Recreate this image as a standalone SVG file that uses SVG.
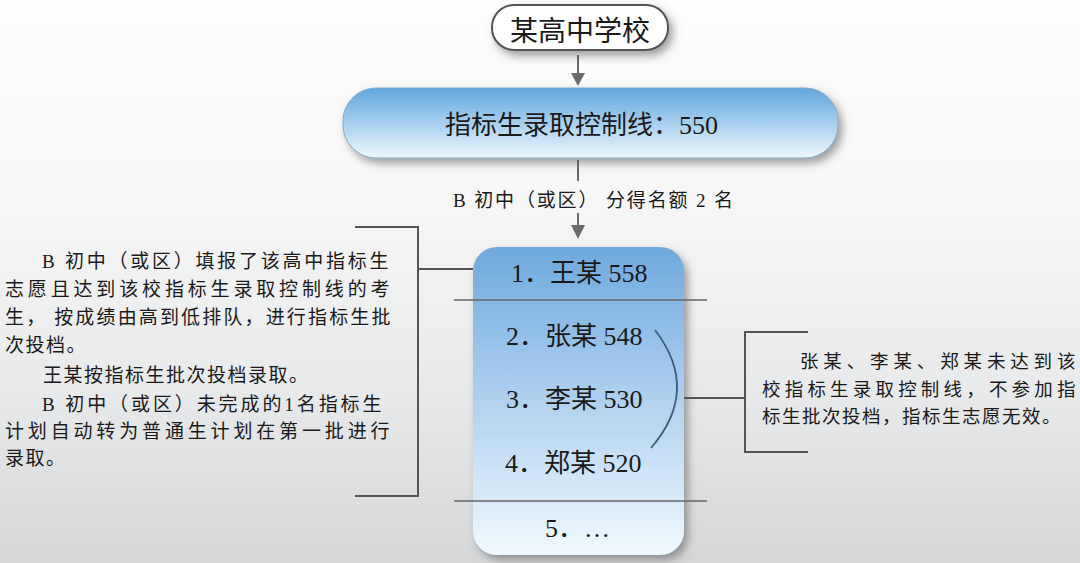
<svg xmlns="http://www.w3.org/2000/svg" width="1080" height="563" viewBox="0 0 1080 563">
<defs>
<linearGradient id="bg" x1="0" y1="0" x2="0" y2="1">
<stop offset="0" stop-color="#fdfdfc"/>
<stop offset="0.35" stop-color="#f7f7f7"/>
<stop offset="0.7" stop-color="#e8e9ea"/>
<stop offset="1" stop-color="#d5d6d8"/>
</linearGradient>
<linearGradient id="banner" x1="0" y1="0" x2="0" y2="1">
<stop offset="0" stop-color="#62a6dc"/>
<stop offset="0.5" stop-color="#a6cfee"/>
<stop offset="1" stop-color="#eef8fd"/>
</linearGradient>
<linearGradient id="list" x1="0" y1="0" x2="0" y2="1">
<stop offset="0" stop-color="#6ea9dc"/>
<stop offset="0.45" stop-color="#a9cdee"/>
<stop offset="1" stop-color="#f1f9fe"/>
</linearGradient>
<filter id="sh" x="-10%" y="-20%" width="130%" height="150%">
<feDropShadow dx="4" dy="5" stdDeviation="4" flood-color="#555" flood-opacity="0.55"/>
</filter>
<style>
.cjk{font-family:"Liberation Serif","Noto Sans CJK SC",serif;fill:#1a1a1a}
.ln{stroke:#555;stroke-width:2;fill:none}
.arr{stroke:#6a6a6a;stroke-width:2;fill:none}
.head{fill:#6a6a6a}
.item{font-size:26px}
.note{font-size:19px;letter-spacing:1.5px}
.note2{font-size:18.5px;letter-spacing:1.5px}
</style>
</defs>
<rect width="1080" height="563" fill="url(#bg)"/>

<g id="connectors">
<line class="arr" x1="578" y1="55" x2="578" y2="74"/>
<path class="head" d="M571,73 L585,73 L578,86 Z"/>
<line class="arr" x1="578" y1="160" x2="578" y2="181"/>
<line class="arr" x1="578" y1="213" x2="578" y2="226"/>
<path class="head" d="M571,225 L585,225 L578,239 Z"/>
<polyline class="ln" points="355,227 418,227 418,496 355,496"/>
<line class="ln" x1="418" y1="269" x2="473" y2="269"/>
<polyline class="ln" points="808,332 745,332 745,452 808,452"/>
<line class="ln" x1="684" y1="398" x2="745" y2="398"/>
</g>

<g id="school">
<rect x="492" y="5" width="176" height="45" rx="22" ry="22" fill="#ffffff" stroke="#555" stroke-width="2" filter="url(#sh)"/>
<text class="cjk" x="580" y="41" font-size="28" text-anchor="middle">某高中学校</text>
</g>

<g id="control-line">
<rect x="343" y="88" width="495" height="70" rx="33" ry="33" fill="url(#banner)" stroke="#7fa9cc" stroke-width="1" filter="url(#sh)"/>
<text class="cjk" x="445" y="134" font-size="26">指标生录取控制线：550</text>
</g>

<g id="quota-label">
<text class="cjk" x="453" y="207" font-size="19" textLength="280" lengthAdjust="spacing">B 初中（或区） 分得名额 2 名</text>
</g>

<g id="ranking">
<rect x="473" y="247" width="211" height="308" rx="24" ry="24" fill="url(#list)" filter="url(#sh)"/>
<line x1="454" y1="300" x2="707" y2="300" stroke="#666" stroke-width="1.6"/>
<line x1="454" y1="501" x2="707" y2="501" stroke="#666" stroke-width="1.6"/>
<text class="cjk item" x="511" y="282">1．王某 558</text>
<text class="cjk item" x="506" y="345">2．张某 548</text>
<text class="cjk item" x="506" y="408">3．李某 530</text>
<text class="cjk item" x="505" y="472">4．郑某 520</text>
<text class="cjk item" x="545" y="537">5．…</text>
<path d="M655,330 Q701,390 651,448" fill="none" stroke="#3f5f7a" stroke-width="1.8"/>
</g>

<g id="note-left">
<text class="cjk note" x="42" y="268" textLength="348" lengthAdjust="spacing">B 初中（或区）填报了该高中指标生</text>
<text class="cjk note" x="5" y="296" textLength="386" lengthAdjust="spacing">志愿且达到该校指标生录取控制线的考</text>
<text class="cjk note" x="5" y="324" textLength="387" lengthAdjust="spacing">生， 按成绩由高到低排队，进行指标生批</text>
<text class="cjk note" x="5" y="352">次投档。</text>
<text class="cjk note" x="43" y="382">王某按指标生批次投档录取。</text>
<text class="cjk note" x="42" y="411" textLength="341" lengthAdjust="spacing">B 初中（或区）未完成的1名指标生</text>
<text class="cjk note" x="5" y="438" textLength="386" lengthAdjust="spacing">计划自动转为普通生计划在第一批进行</text>
<text class="cjk note" x="5" y="465">录取。</text>
</g>

<g id="note-right">
<text class="cjk note2" x="800" y="368" textLength="277" lengthAdjust="spacing">张某、李某、郑某未达到该</text>
<text class="cjk note2" x="762" y="396" textLength="315" lengthAdjust="spacing">校指标生录取控制线，不参加指</text>
<text class="cjk note2" x="762" y="423">标生批次投档，指标生志愿无效。</text>
</g>
</svg>
